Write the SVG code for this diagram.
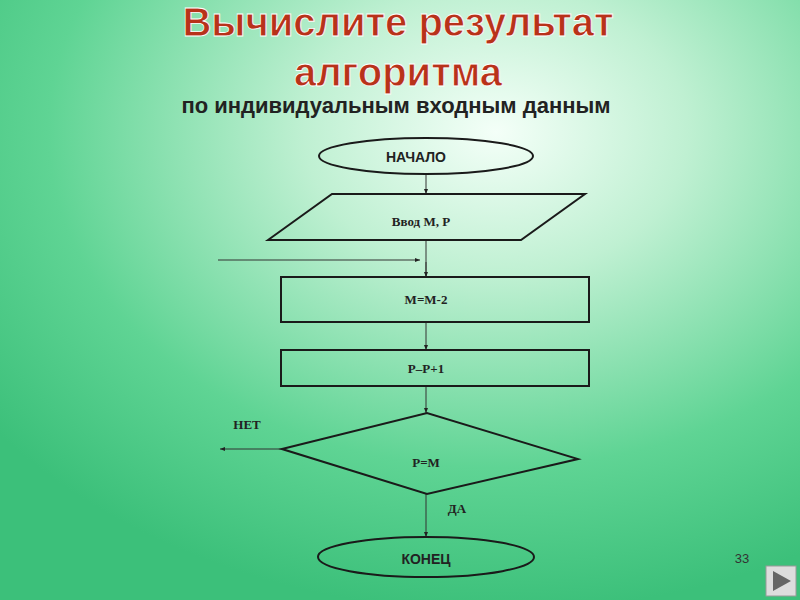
<svg xmlns="http://www.w3.org/2000/svg" width="800" height="600" viewBox="0 0 800 600">
<defs>
<radialGradient id="bg" cx="0.62" cy="0.22" r="0.8">
<stop offset="0" stop-color="#f4fff8"/>
<stop offset="0.3" stop-color="#bff0d2"/>
<stop offset="0.7" stop-color="#5fd494"/>
<stop offset="1" stop-color="#3cc07a"/>
</radialGradient>
<marker id="ar" markerWidth="6" markerHeight="6" refX="5" refY="3" orient="auto"><path d="M0,1 L5,3 L0,5 z" fill="#222"/></marker>
<style>
.s{fill:none;stroke:#1a1a1a;stroke-width:2}
.c{stroke:#333;stroke-width:1;fill:none;marker-end:url(#ar)}
.t{font-family:"Liberation Serif",serif;font-weight:bold;font-size:13px;fill:#222;text-anchor:middle}
.a{font-family:"Liberation Sans",sans-serif;font-weight:bold;font-size:14px;fill:#222;text-anchor:middle}
.h{font-family:"Liberation Sans",sans-serif;font-weight:bold;font-size:40px;fill:#b8321a;text-anchor:middle;stroke:#fff;stroke-width:0.8}
</style>
</defs>
<rect width="800" height="600" fill="url(#bg)"/>
<text class="h" x="398" y="36">Вычислите результат</text>
<text class="h" x="398" y="86">алгоритма</text>
<text x="396" y="113" font-family="Liberation Sans,sans-serif" font-weight="bold" font-size="22" fill="#222" text-anchor="middle">по индивидуальным входным данным</text>
<g id="connectors">
<line class="c" x1="426" y1="175" x2="426" y2="194"/>
<line x1="426" y1="240" x2="426" y2="277" stroke="#333"/>
<line class="c" x1="218" y1="260" x2="420" y2="260"/>
<line class="c" x1="426" y1="262" x2="426" y2="277"/>
<line class="c" x1="426" y1="322" x2="426" y2="350"/>
<line class="c" x1="426" y1="386" x2="426" y2="413"/>
<line class="c" x1="282" y1="449" x2="220" y2="449"/>
<line class="c" x1="426" y1="494" x2="426" y2="537"/>
</g>
<g id="start"><ellipse class="s" cx="426" cy="156" rx="107" ry="18"/><text class="a" x="416" y="162">НАЧАЛО</text></g>
<g id="input"><polygon class="s" stroke-width="1" points="268,240 332,194 585,194 521,240"/><text class="t" x="421" y="226">Ввод М, Р</text></g>
<g id="p1"><rect class="s" x="281" y="277" width="308" height="45"/><text class="t" x="426" y="304">М=М-2</text></g>
<g id="p2"><rect class="s" x="281" y="350" width="308" height="36"/><text class="t" x="426" y="373">Р–Р+1</text></g>
<g id="cond"><polygon class="s" points="282,449 427,413 578,459 427,494"/><text class="t" x="426" y="467">Р=М</text></g>
<g id="end"><ellipse class="s" cx="426" cy="557" rx="108" ry="20"/><text class="a" x="426" y="564">КОНЕЦ</text></g>
<text class="t" x="247" y="429">НЕТ</text>
<text class="t" x="457" y="513">ДА</text>
<text x="742" y="563" font-family="Liberation Sans,sans-serif" font-size="13" fill="#333" text-anchor="middle">33</text>
<rect x="766" y="566" width="30" height="30" fill="#ddd" stroke="#999"/>
<polygon points="773,571 791,581 773,591" fill="#666"/>
</svg>
